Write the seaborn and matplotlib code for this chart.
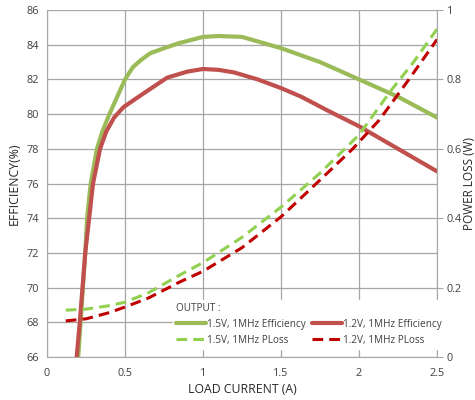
import matplotlib
matplotlib.use("Agg")
import matplotlib.pyplot as plt
import seaborn as sns
import pandas as pd

# load current (A) and readings taken off the reference curves
eff15_x = [0.2, 0.215, 0.245, 0.257, 0.28, 0.32, 0.355, 0.4, 0.45, 0.5, 0.55, 0.6, 0.66,
           0.75, 0.85, 1.0, 1.1, 1.25, 1.5, 1.75, 2.0, 2.25, 2.5]
eff15_y = [66, 68, 72, 74, 76, 78, 79.0, 80.0, 81.0, 82.0, 82.7, 83.1, 83.5,
           83.8, 84.1, 84.45, 84.5, 84.45, 83.8, 83.0, 82.0, 81.0, 79.8]

eff12_x = [0.19, 0.21, 0.245, 0.27, 0.295, 0.34, 0.38, 0.43, 0.49, 0.62, 0.77, 0.9,
           1.0, 1.1, 1.2, 1.35, 1.5, 1.63, 1.8, 2.0, 2.25, 2.5]
eff12_y = [66, 68, 72, 74, 76, 78, 79.0, 79.8, 80.4, 81.2, 82.1, 82.45,
           82.6, 82.55, 82.4, 82.0, 81.5, 81.0, 80.2, 79.3, 78.0, 76.7]

ploss15_x = [0.12, 0.25, 0.4, 0.5, 0.65, 0.85, 1.0, 1.25, 1.5, 1.75, 1.88, 2.0, 2.2, 2.35, 2.5]
ploss15_y = [0.135, 0.138, 0.148, 0.158, 0.185, 0.236, 0.272, 0.345, 0.432, 0.53, 0.587,
             0.64, 0.765, 0.85, 0.945]

ploss12_x = [0.12, 0.25, 0.4, 0.5, 0.65, 0.85, 1.0, 1.25, 1.5, 1.75, 1.96, 2.13, 2.32, 2.5]
ploss12_y = [0.104, 0.11, 0.128, 0.144, 0.17, 0.216, 0.247, 0.315, 0.404, 0.51, 0.6,
             0.683, 0.8, 0.915]

labels = ["1.5V, 1MHz Efficiency", "1.2V, 1MHz Efficiency",
          "1.5V, 1MHz PLoss", "1.2V, 1MHz PLoss"]

sns.set_style("white")
plt.rcParams["font.family"] = ["Open Sans", "DejaVu Sans"]

fig = plt.figure(figsize=(4.75, 4.0), dpi=100)
ax = fig.add_axes([0.099, 0.1075, 0.821, 0.8675])
ax2 = ax.twinx()

grid_col = "#a6a6a6"
sns.lineplot(x=eff15_x, y=eff15_y, ax=ax, color="#9bbb59", lw=3, label=labels[0], sort=False)
sns.lineplot(x=eff12_x, y=eff12_y, ax=ax, color="#c0504d", lw=3, label=labels[1], sort=False)
sns.lineplot(x=ploss15_x, y=ploss15_y, ax=ax2, color="#92d050", lw=2.2,
             linestyle=(0, (3.5, 2)), label=labels[2], sort=False)
sns.lineplot(x=ploss12_x, y=ploss12_y, ax=ax2, color="#c00000", lw=2.2,
             linestyle=(0, (3.5, 2)), label=labels[3], sort=False)

ax.set_xlim(0, 2.5)
ax.set_ylim(66, 86)
ax2.set_ylim(0, 1)
ax.set_xticks([0, 0.5, 1, 1.5, 2, 2.5])
ax.set_xticklabels(["0", "0.5", "1", "1.5", "2", "2.5"])
ax.set_yticks(range(66, 87, 2))
ax2.set_yticks([0, 0.2, 0.4, 0.6, 0.8, 1])
ax2.set_yticklabels(["0", "0.2", "0.4", "0.6", "0.8", "1"])

ax.grid(True, color=grid_col, lw=0.9)
ax.set_axisbelow(True)
for sp in ax.spines.values():
    sp.set_visible(False)
for sp in ax2.spines.values():
    sp.set_visible(False)
ax.spines["left"].set_visible(True)
ax.spines["left"].set_color(grid_col)
ax.spines["bottom"].set_visible(True)
ax.spines["bottom"].set_color(grid_col)
ax2.spines["right"].set_visible(True)
ax2.spines["right"].set_color(grid_col)

ax.tick_params(axis="x", length=4, color=grid_col, labelsize=7.8, colors="#404040", pad=4)
ax.tick_params(axis="y", length=0, labelsize=7.8, colors="#404040", pad=6)
ax2.tick_params(axis="y", length=4, color=grid_col, labelsize=7.8, colors="#404040", pad=3)

ax.set_xlabel("LOAD CURRENT (A)", fontsize=8.8, color="#262626", labelpad=3)
ax.set_ylabel("EFFICIENCY(%)", fontsize=8.8, color="#262626", labelpad=4)
ax2.set_ylabel("POWER LOSS (W)", fontsize=8.5, color="#262626", labelpad=1)

h1, _ = ax.get_legend_handles_labels()
h2, _ = ax2.get_legend_handles_labels()
ax.get_legend().remove()
ax2.get_legend().remove()
handles = [h1[0], h2[0], h1[1], h2[1]]
leg = ax2.legend(handles, [labels[0], labels[2], labels[1], labels[3]],
                 ncol=2, title="OUTPUT :", alignment="left",
                 loc="lower left", bbox_to_anchor=(0.31, 0.01),
                 frameon=True, framealpha=1, edgecolor="white", fancybox=False,
                 fontsize=7.2, title_fontsize=7.2, handlelength=3.0, handletextpad=0.1,
                 columnspacing=0.6, labelspacing=0.5, borderpad=0.3)
for t in leg.get_texts():
    t.set_color("#404040")
leg.get_title().set_color("#404040")

fig.savefig("out.png", dpi=100)
